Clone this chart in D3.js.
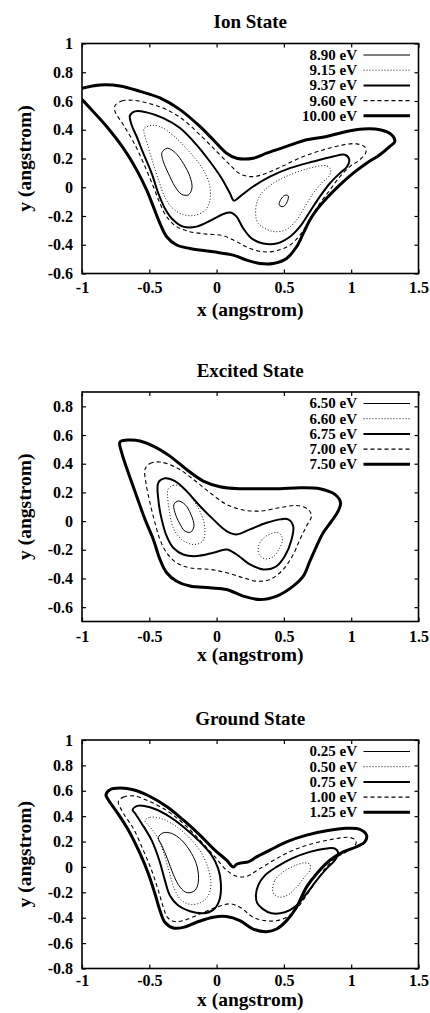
<!DOCTYPE html>
<html>
<head>
<meta charset="utf-8">
<script src="https://cdn.jsdelivr.net/npm/d3@7"></script>
<style>
  html, body { margin: 0; padding: 0; background: #fff; }
  svg { display: block; }
  text { font-family: "Liberation Serif", "Times New Roman", serif; font-weight: bold; fill: #000; }
</style>
</head>
<body>
<svg id="chart" width="430" height="1013"></svg>
<script>
// ---------------- data ----------------
const xTicks = [-1, -0.5, 0, 0.5, 1, 1.5];
const ionYTicks = [-0.6, -0.4, -0.2, 0, 0.2, 0.4, 0.6, 0.8, 1];
const excYTicks = [-0.6, -0.4, -0.2, 0, 0.2, 0.4, 0.6, 0.8];
const groYTicks = [-0.8, -0.6, -0.4, -0.2, 0, 0.2, 0.4, 0.6, 0.8, 1];

const ionLabels = ["8.90 eV", "9.15 eV", "9.37 eV", "9.60 eV", "10.00 eV"];
const excLabels = ["6.50 eV", "6.60 eV", "6.75 eV", "7.00 eV", "7.50 eV"];
const groLabels = ["0.25 eV", "0.50 eV", "0.75 eV", "1.00 eV", "1.25 eV"];

// Ion state contours
const ion890Left = [[-0.401,0.249],[-0.366,0.272],[-0.309,0.242],[-0.248,0.167],[-0.198,0.074],[-0.183,-0.007],[-0.210,-0.053],[-0.260,-0.049],[-0.309,0.005],[-0.359,0.098],[-0.396,0.179],[-0.408,0.233]];
const ion890Right = [[0.465,-0.123],[0.478,-0.084],[0.507,-0.056],[0.532,-0.060],[0.525,-0.100],[0.495,-0.135]];
const ion915Left = [[-0.540,0.406],[-0.495,0.429],[-0.421,0.422],[-0.322,0.360],[-0.210,0.255],[-0.111,0.139],[-0.054,0.023],[-0.050,-0.093],[-0.087,-0.162],[-0.173,-0.197],[-0.260,-0.186],[-0.334,-0.139],[-0.384,-0.070],[-0.426,0.035],[-0.470,0.162],[-0.515,0.302],[-0.540,0.383]];
const ion915Right = [[0.292,-0.205],[0.297,-0.112],[0.334,-0.042],[0.421,0.028],[0.545,0.086],[0.693,0.133],[0.817,0.149],[0.847,0.121],[0.837,0.079],[0.780,0.028],[0.718,-0.042],[0.656,-0.135],[0.594,-0.228],[0.520,-0.293],[0.433,-0.309],[0.359,-0.286],[0.309,-0.251]];
const ion937 = [[-0.644,0.498],[-0.606,0.528],[-0.520,0.521],[-0.396,0.481],[-0.272,0.412],[-0.149,0.295],[-0.050,0.179],[0.037,0.063],[0.099,-0.042],[0.129,-0.093],[0.173,-0.065],[0.272,0.005],[0.396,0.074],[0.545,0.133],[0.718,0.179],[0.866,0.214],[0.953,0.226],[0.985,0.195],[0.970,0.144],[0.916,0.098],[0.842,0.028],[0.767,-0.065],[0.693,-0.170],[0.619,-0.274],[0.545,-0.344],[0.446,-0.391],[0.347,-0.391],[0.260,-0.356],[0.198,-0.286],[0.149,-0.205],[0.111,-0.177],[0.050,-0.186],[-0.037,-0.228],[-0.149,-0.274],[-0.248,-0.274],[-0.322,-0.228],[-0.384,-0.147],[-0.433,-0.042],[-0.483,0.098],[-0.545,0.237],[-0.594,0.353],[-0.632,0.435]];
const ion960 = [[-0.755,0.567],[-0.705,0.600],[-0.619,0.605],[-0.495,0.581],[-0.371,0.540],[-0.248,0.470],[-0.124,0.365],[0.000,0.249],[0.099,0.156],[0.173,0.093],[0.272,0.074],[0.371,0.098],[0.495,0.149],[0.644,0.214],[0.792,0.260],[0.941,0.295],[1.040,0.302],[1.102,0.279],[1.109,0.242],[1.064,0.191],[0.990,0.144],[0.916,0.074],[0.842,-0.019],[0.767,-0.112],[0.693,-0.228],[0.619,-0.333],[0.545,-0.402],[0.446,-0.442],[0.347,-0.449],[0.248,-0.426],[0.149,-0.379],[0.050,-0.337],[-0.074,-0.326],[-0.198,-0.309],[-0.297,-0.274],[-0.371,-0.205],[-0.421,-0.112],[-0.470,0.005],[-0.532,0.144],[-0.606,0.295],[-0.693,0.435],[-0.755,0.528]];
const ion1000 = [[-1.02,0.684],[-0.866,0.712],[-0.718,0.705],[-0.569,0.667],[-0.421,0.621],[-0.272,0.540],[-0.124,0.423],[-0.025,0.330],[0.074,0.237],[0.149,0.202],[0.272,0.202],[0.371,0.237],[0.520,0.284],[0.668,0.330],[0.817,0.353],[0.965,0.388],[1.089,0.405],[1.213,0.400],[1.300,0.365],[1.324,0.319],[1.287,0.284],[1.213,0.226],[1.114,0.167],[1.015,0.098],[0.916,0.016],[0.817,-0.077],[0.743,-0.158],[0.693,-0.228],[0.644,-0.321],[0.594,-0.414],[0.520,-0.495],[0.421,-0.530],[0.322,-0.530],[0.223,-0.507],[0.124,-0.472],[-0.025,-0.449],[-0.198,-0.426],[-0.297,-0.402],[-0.371,-0.344],[-0.421,-0.251],[-0.470,-0.135],[-0.520,-0.019],[-0.594,0.121],[-0.693,0.272],[-0.817,0.423],[-0.941,0.551],[-1.02,0.63]];

// Excited state contours
const exc650 = [[-0.317,0.116],[-0.285,0.140],[-0.235,0.116],[-0.191,0.047],[-0.168,-0.035],[-0.193,-0.077],[-0.235,-0.070],[-0.277,-0.012],[-0.309,0.058]];
const exc660Left = [[-0.361,0.221],[-0.322,0.249],[-0.260,0.240],[-0.186,0.163],[-0.119,0.058],[-0.087,-0.047],[-0.104,-0.140],[-0.173,-0.163],[-0.260,-0.128],[-0.322,-0.047],[-0.351,0.070],[-0.364,0.174]];
const exc660Right = [[0.309,-0.186],[0.334,-0.133],[0.391,-0.093],[0.458,-0.081],[0.490,-0.123],[0.465,-0.193],[0.421,-0.249],[0.359,-0.263],[0.317,-0.233]];
const exc675 = [[-0.433,0.267],[-0.384,0.298],[-0.309,0.279],[-0.223,0.209],[-0.124,0.105],[-0.025,0.012],[0.074,-0.070],[0.149,-0.093],[0.248,-0.058],[0.371,-0.012],[0.470,0.012],[0.532,0.012],[0.569,-0.035],[0.557,-0.128],[0.507,-0.244],[0.446,-0.314],[0.347,-0.337],[0.248,-0.302],[0.149,-0.233],[0.074,-0.198],[-0.025,-0.221],[-0.149,-0.244],[-0.248,-0.233],[-0.322,-0.186],[-0.371,-0.105],[-0.408,0.012],[-0.433,0.151]];
const exc700 = [[-0.532,0.360],[-0.495,0.402],[-0.421,0.412],[-0.297,0.372],[-0.173,0.291],[-0.050,0.198],[0.074,0.116],[0.198,0.077],[0.322,0.070],[0.470,0.093],[0.594,0.109],[0.681,0.081],[0.705,0.035],[0.668,-0.035],[0.619,-0.128],[0.569,-0.233],[0.495,-0.337],[0.396,-0.407],[0.297,-0.419],[0.198,-0.395],[0.074,-0.360],[-0.050,-0.337],[-0.198,-0.326],[-0.297,-0.291],[-0.371,-0.221],[-0.421,-0.128],[-0.458,-0.012],[-0.495,0.128],[-0.525,0.267]];
const exc750 = [[-0.718,0.551],[-0.644,0.565],[-0.569,0.558],[-0.470,0.523],[-0.347,0.453],[-0.223,0.360],[-0.099,0.279],[0.025,0.240],[0.173,0.226],[0.322,0.226],[0.470,0.226],[0.619,0.233],[0.767,0.226],[0.879,0.186],[0.921,0.128],[0.903,0.070],[0.854,0.000],[0.792,-0.081],[0.743,-0.174],[0.693,-0.279],[0.644,-0.384],[0.569,-0.453],[0.446,-0.523],[0.322,-0.547],[0.198,-0.523],[0.074,-0.477],[-0.050,-0.465],[-0.198,-0.453],[-0.297,-0.419],[-0.371,-0.360],[-0.421,-0.267],[-0.470,-0.128],[-0.532,0.012],[-0.594,0.174],[-0.656,0.337],[-0.705,0.477]];

// Ground state contours
const gro025 = [[-0.433,0.232],[-0.396,0.269],[-0.334,0.264],[-0.260,0.211],[-0.186,0.106],[-0.144,0.000],[-0.136,-0.119],[-0.161,-0.185],[-0.218,-0.203],[-0.272,-0.159],[-0.322,-0.058],[-0.366,0.066],[-0.408,0.172]];
const gro050Left = [[-0.532,0.365],[-0.495,0.391],[-0.408,0.380],[-0.297,0.317],[-0.186,0.211],[-0.111,0.106],[-0.062,-0.013],[-0.042,-0.132],[-0.062,-0.225],[-0.111,-0.277],[-0.186,-0.296],[-0.260,-0.264],[-0.314,-0.172],[-0.351,-0.040],[-0.396,0.119],[-0.450,0.251],[-0.507,0.330]];
const gro050Right = [[0.416,-0.172],[0.433,-0.106],[0.483,-0.048],[0.569,0.005],[0.656,0.032],[0.693,0.021],[0.693,-0.026],[0.649,-0.085],[0.594,-0.159],[0.532,-0.219],[0.470,-0.238],[0.428,-0.217]];
const gro075Left = [[-0.624,0.449],[-0.589,0.481],[-0.495,0.470],[-0.371,0.410],[-0.248,0.317],[-0.124,0.198],[-0.037,0.092],[0.012,-0.013],[0.032,-0.132],[0.020,-0.264],[-0.025,-0.338],[-0.099,-0.365],[-0.198,-0.349],[-0.285,-0.304],[-0.347,-0.225],[-0.384,-0.106],[-0.426,0.053],[-0.483,0.211],[-0.557,0.343],[-0.606,0.423]];
const gro075Right = [[0.292,-0.225],[0.309,-0.145],[0.359,-0.066],[0.446,0.000],[0.557,0.066],[0.693,0.119],[0.817,0.145],[0.879,0.145],[0.903,0.111],[0.879,0.053],[0.817,-0.013],[0.743,-0.106],[0.668,-0.211],[0.594,-0.304],[0.507,-0.357],[0.408,-0.365],[0.342,-0.330],[0.302,-0.285]];
const gro100 = [[-0.730,0.515],[-0.693,0.550],[-0.619,0.560],[-0.495,0.515],[-0.371,0.444],[-0.248,0.343],[-0.124,0.211],[-0.012,0.079],[0.074,-0.026],[0.149,-0.074],[0.223,-0.074],[0.322,-0.013],[0.446,0.066],[0.569,0.132],[0.718,0.185],[0.866,0.219],[0.990,0.232],[1.035,0.206],[1.027,0.164],[0.978,0.127],[0.891,0.074],[0.817,0.000],[0.743,-0.106],[0.668,-0.225],[0.594,-0.330],[0.520,-0.396],[0.446,-0.423],[0.359,-0.423],[0.272,-0.396],[0.173,-0.317],[0.099,-0.291],[0.000,-0.317],[-0.124,-0.370],[-0.248,-0.423],[-0.322,-0.428],[-0.366,-0.396],[-0.396,-0.317],[-0.433,-0.185],[-0.483,-0.026],[-0.545,0.132],[-0.619,0.304],[-0.693,0.423]];
const gro125 = [[-0.822,0.568],[-0.792,0.608],[-0.718,0.621],[-0.619,0.608],[-0.495,0.555],[-0.371,0.476],[-0.248,0.370],[-0.124,0.251],[-0.025,0.145],[0.074,0.053],[0.124,0.000],[0.149,0.021],[0.186,0.032],[0.235,0.040],[0.297,0.079],[0.396,0.132],[0.520,0.198],[0.668,0.251],[0.817,0.285],[0.965,0.304],[1.064,0.296],[1.114,0.251],[1.101,0.198],[1.040,0.159],[0.941,0.119],[0.842,0.053],[0.743,-0.053],[0.668,-0.159],[0.594,-0.317],[0.520,-0.423],[0.446,-0.489],[0.371,-0.510],[0.272,-0.489],[0.173,-0.423],[0.074,-0.391],[-0.025,-0.396],[-0.149,-0.436],[-0.248,-0.476],[-0.322,-0.481],[-0.384,-0.436],[-0.421,-0.343],[-0.458,-0.211],[-0.507,-0.053],[-0.569,0.106],[-0.656,0.291],[-0.743,0.436],[-0.804,0.528]];

// ---------------- styles (by level index) ----------------
const styles = [
  { w: 1.0, dash: null },
  { w: 0.9, dash: "1,2" },
  { w: 2.0, dash: null },
  { w: 1.1, dash: "4,3" },
  { w: 3.0, dash: null }
];

const panels = [
  { title: "Ion State", top: 43.5, bottom: 273.5, tickPad: 7.7, xlabBase: 42, yDomain: [-0.6, 1], yTicks: ionYTicks, labels: ionLabels,
    curves: [
      { lvl: 0, pts: ion890Left, closed: true }, { lvl: 0, pts: ion890Right, closed: true },
      { lvl: 1, pts: ion915Left, closed: true }, { lvl: 1, pts: ion915Right, closed: true },
      { lvl: 2, pts: ion937, closed: true }, { lvl: 3, pts: ion960, closed: true },
      { lvl: 4, pts: ion1000, closed: false } ] },
  { title: "Excited State", top: 392, bottom: 621.5, tickPad: 9.5, xlabBase: 39, yDomain: [-0.7, 0.9], yTicks: excYTicks, labels: excLabels,
    curves: [
      { lvl: 0, pts: exc650, closed: true },
      { lvl: 1, pts: exc660Left, closed: true }, { lvl: 1, pts: exc660Right, closed: true },
      { lvl: 2, pts: exc675, closed: true }, { lvl: 3, pts: exc700, closed: true },
      { lvl: 4, pts: exc750, closed: true } ] },
  { title: "Ground State", top: 740, bottom: 968.5, tickPad: 6.5, xlabBase: 37, yDomain: [-0.8, 1], yTicks: groYTicks, labels: groLabels,
    curves: [
      { lvl: 0, pts: gro025, closed: true },
      { lvl: 1, pts: gro050Left, closed: true }, { lvl: 1, pts: gro050Right, closed: true },
      { lvl: 2, pts: gro075Left, closed: true }, { lvl: 2, pts: gro075Right, closed: true },
      { lvl: 3, pts: gro100, closed: true }, { lvl: 4, pts: gro125, closed: true } ] }
];

// ---------------- drawing ----------------
const svg = d3.select("#chart");
const left = 82, right = 418.5;
const fmt = d => String(+d.toFixed(2));

panels.forEach((p, i) => {
  const x = d3.scaleLinear().domain([-1, 1.5]).range([left, right]);
  const y = d3.scaleLinear().domain(p.yDomain).range([p.bottom, p.top]);
  const g = svg.append("g");

  const clipId = "clip" + i;
  svg.append("defs").append("clipPath").attr("id", clipId)
    .append("rect").attr("x", left).attr("y", p.top).attr("width", right - left).attr("height", p.bottom - p.top);

  // axes with inward ticks
  const axB = d3.axisBottom(x).tickValues(xTicks).tickSize(-4).tickPadding(p.tickPad).tickFormat(fmt);
  const axT = d3.axisTop(x).tickValues(xTicks).tickSize(-4).tickFormat("");
  const axL = d3.axisLeft(y).tickValues(p.yTicks).tickSize(-4).tickPadding(9).tickFormat(fmt);
  const axR = d3.axisRight(y).tickValues(p.yTicks).tickSize(-4).tickFormat("");

  const gb = g.append("g").attr("transform", `translate(0,${p.bottom})`).call(axB);
  const gt = g.append("g").attr("transform", `translate(0,${p.top})`).call(axT);
  const gl = g.append("g").attr("transform", `translate(${left},0)`).call(axL);
  const gr = g.append("g").attr("transform", `translate(${right},0)`).call(axR);
  [gb, gt, gl, gr].forEach(a => {
    a.select(".domain").remove();
    a.selectAll("line").attr("stroke", "#000").attr("stroke-width", 1.2);
    a.selectAll("text").attr("font-family", "Liberation Serif, serif").attr("font-weight", "bold")
      .attr("font-size", 16).attr("fill", "#000");
  });

  // curves
  const cg = g.append("g").attr("clip-path", `url(#${clipId})`);
  p.curves.forEach(c => {
    const line = d3.line().x(d => x(d[0])).y(d => y(d[1]))
      .curve(c.closed ? d3.curveCatmullRomClosed.alpha(0.5) : d3.curveCatmullRom.alpha(0.5));
    const s = styles[c.lvl];
    cg.append("path").attr("d", line(c.pts)).attr("fill", "none").attr("stroke", "#000")
      .attr("stroke-width", s.w).attr("stroke-dasharray", s.dash).attr("stroke-linejoin", "round");
  });

  // frame
  g.append("rect").attr("x", left).attr("y", p.top).attr("width", right - left).attr("height", p.bottom - p.top)
    .attr("fill", "none").attr("stroke", "#000").attr("stroke-width", 1.6);

  // legend
  const lg = g.append("g");
  p.labels.forEach((lab, k) => {
    const ly = p.top + 11.5 + k * 15.2;
    lg.append("text").attr("x", right - 61.5).attr("y", ly).attr("dy", "0.33em")
      .attr("text-anchor", "end").attr("font-size", 15).text(lab);
    const s = styles[k];
    lg.append("line").attr("x1", right - 55).attr("x2", right - 8.5).attr("y1", ly).attr("y2", ly)
      .attr("stroke", "#000").attr("stroke-width", s.w).attr("stroke-dasharray", s.dash);
  });

  // titles
  const cx = (left + right) / 2;
  g.append("text").attr("x", cx).attr("y", p.top - 22).attr("dy", "0.35em").attr("text-anchor", "middle")
    .attr("font-size", 19).text(p.title);
  g.append("text").attr("x", cx).attr("y", p.bottom + p.xlabBase).attr("text-anchor", "middle")
    .attr("font-size", 19.5).text("x (angstrom)");
  g.append("text").attr("transform", `translate(24,${(p.top + p.bottom) / 2}) rotate(-90)`)
    .attr("dy", "0.35em").attr("text-anchor", "middle").attr("font-size", 19.5).text("y (angstrom)");
});
</script>
</body>
</html>
